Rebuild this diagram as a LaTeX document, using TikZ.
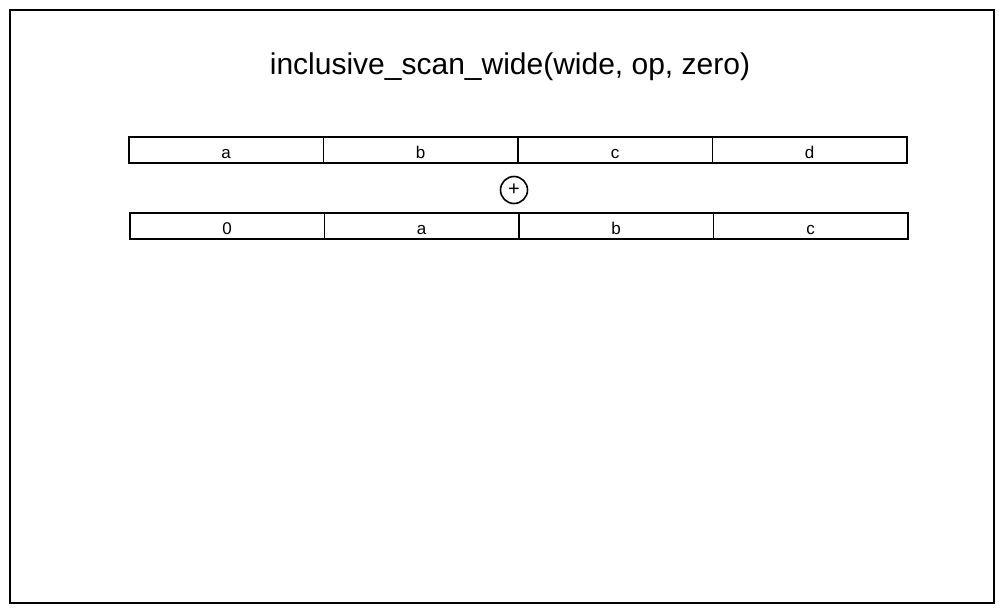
\documentclass[tikz,border=0pt]{standalone}
\usepackage{fontspec}
\setmainfont{Liberation Sans}
\usepackage{tikz}
\usetikzlibrary{positioning}

\begin{document}
\begin{tikzpicture}[x=1pt, y=-1pt, node distance=-1.6pt, line width=1.6pt, celula/.style={draw, minimum width=194.5pt, minimum height=26.5pt, inner sep=0pt, text height=16pt, text depth=0pt, font=\fontsize{17}{20}\selectfont}, op/.style={draw, circle, minimum size=27pt, inner sep=0pt, font=\fontsize{20}{22}\selectfont}]
\useasboundingbox (0,0) rectangle (1004,613);
\draw (10,10) rectangle (994,603);
\node[font=\fontsize{30}{34}\selectfont] (titulo) at (510,67) {inclusive\_scan\_wide(wide, op, zero)};
% linha de cima
\node[celula, anchor=west] (a1) at (128,150) {a};
\node[celula, right=of a1] (b1) {b};
\node[celula, right=of b1] (c1) {c};
\node[celula, right=of c1] (d1) {d};
% operador
\node[op] (soma) at (514,190) {+};
% linha de baixo, deslocada
\node[celula, anchor=west] (z2) at (129,226) {0};
\node[celula, right=of z2] (a2) {a};
\node[celula, right=of a2] (b2) {b};
\node[celula, right=of b2] (c2) {c};
\end{tikzpicture}
\end{document}
